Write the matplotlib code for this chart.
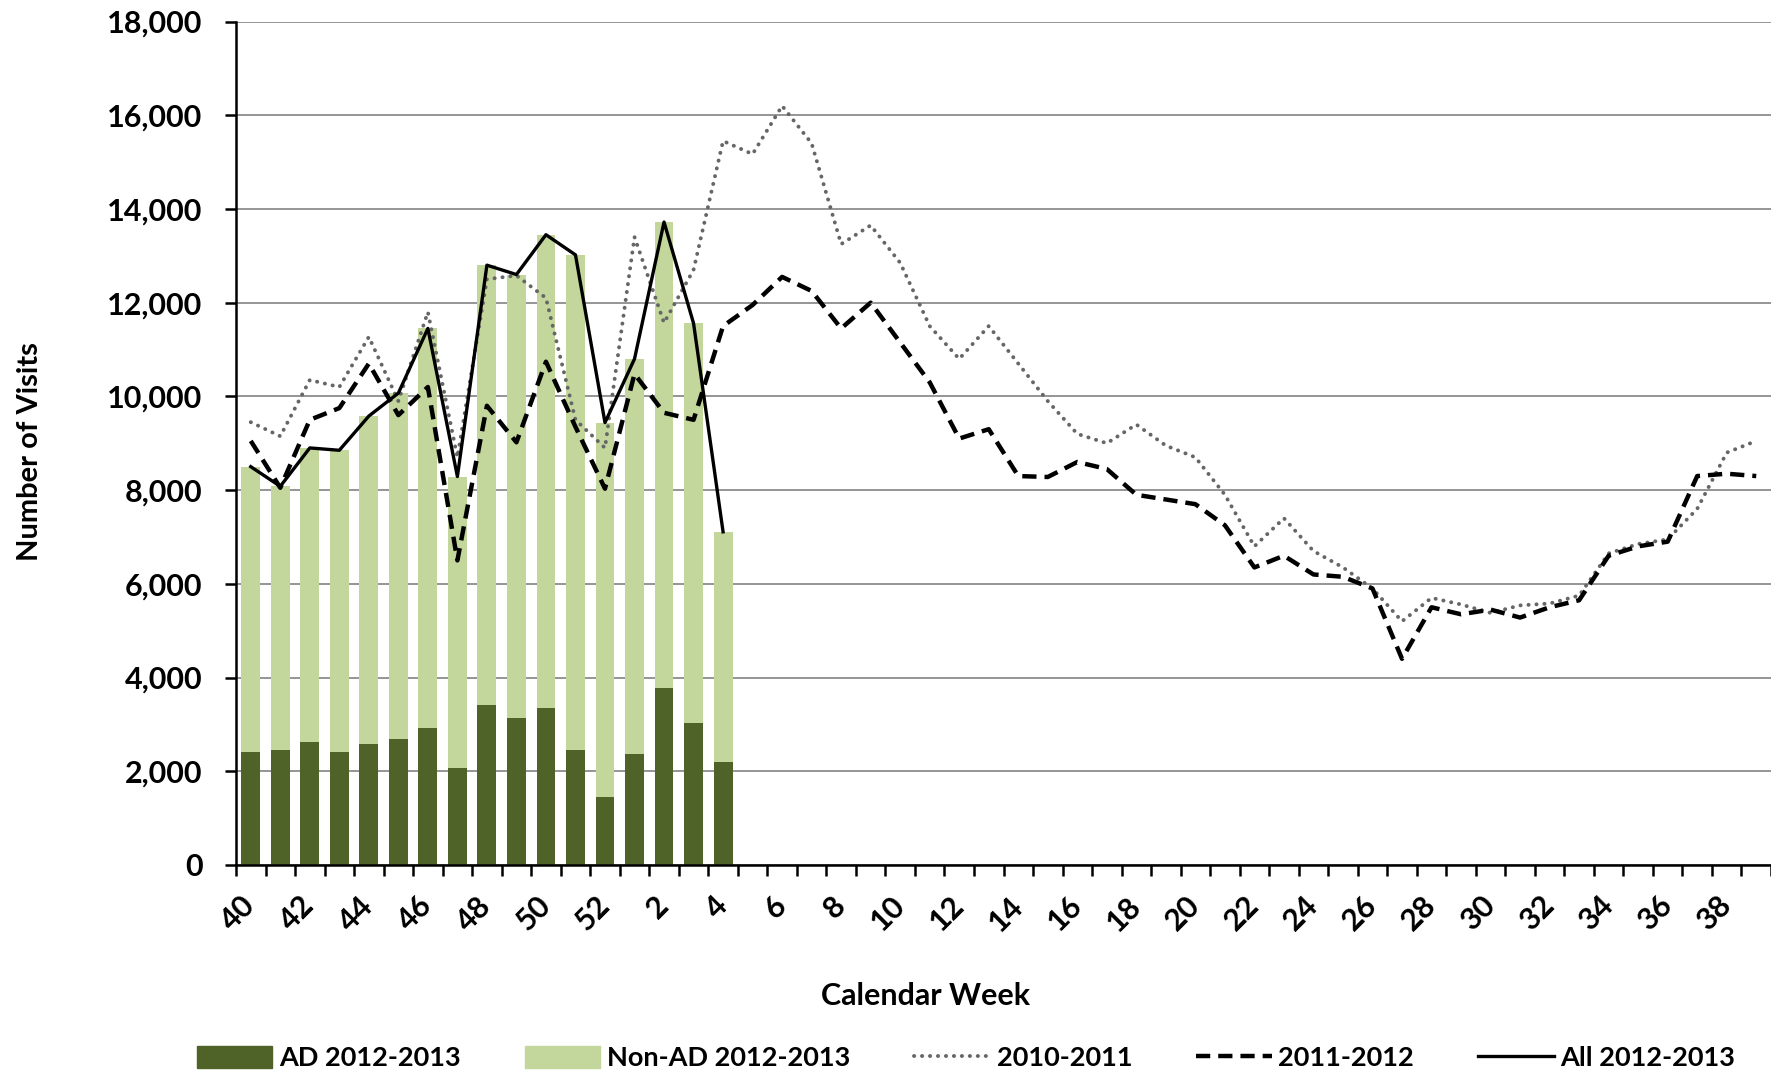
import numpy as np
import matplotlib
matplotlib.use("Agg")
from matplotlib import pyplot as plt
from matplotlib.patches import Patch
from matplotlib.lines import Line2D

plt.rcParams['font.family'] = ['Lato', 'DejaVu Sans']
plt.rcParams['font.weight'] = 'bold'

# calendar weeks, season runs week 40 -> week 39
weeks = list(range(40, 53)) + list(range(1, 40))

# 2012-2013 season (weeks 40..4)
ad_2012 = [2420, 2450, 2630, 2420, 2580, 2690, 2920, 2060, 3410, 3130, 3340, 2450, 1450, 2360, 3770, 3040, 2200]
nonad_2012 = [6080, 5630, 6270, 6430, 7000, 7380, 8530, 6230, 9390, 9470, 10110, 10570, 7990, 8440, 9950, 8520, 4910]
all_2012 = [8500, 8080, 8900, 8850, 9580, 10070, 11450, 8290, 12800, 12600, 13450, 13020, 9440, 10800, 13720, 11560, 7110]

# previous seasons, full year
s2010 = [9450, 9150, 10350, 10200, 11270, 9900, 11800, 8700, 12500, 12580, 12100, 9500, 8900,
         13400, 11570, 12700, 15450, 15170, 16200, 15400, 13250, 13650, 12850, 11500, 10800, 11500, 10700,
         9900, 9200, 9000, 9400, 8950, 8700, 7900, 6800, 7400, 6700, 6350, 5900, 5200, 5700, 5560,
         5380, 5540, 5580, 5750, 6650, 6850, 6950, 7600, 8800, 9050]
s2011 = [9050, 8050, 9500, 9750, 10700, 9600, 10200, 6500, 9800, 9020, 10740, 9350, 8030,
         10480, 9650, 9500, 11500, 11950, 12550, 12250, 11450, 12000, 11150, 10300, 9100, 9300, 8300,
         8280, 8600, 8450, 7900, 7800, 7700, 7250, 6350, 6600, 6200, 6150, 5900, 4400, 5500, 5350,
         5450, 5280, 5500, 5650, 6600, 6800, 6900, 8300, 8350, 8300]

dark = '#4f6228'
light = '#c3d69b'

fig = plt.figure(figsize=(17.71, 10.74), dpi=100)
ax = fig.add_axes([236/1771, 1 - 865/1074, 1 - 236/1771, (865 - 21.5)/1074])

x = np.arange(len(weeks))
xb = x[:len(ad_2012)]
ax.bar(xb, ad_2012, width=0.64, color=dark, zorder=2)
ax.bar(xb, nonad_2012, width=0.64, bottom=ad_2012, color=light, zorder=2)

ax.plot(x, s2010, color='#666666', lw=2.8, linestyle=(0, (0.05, 2.0)),
        dash_capstyle='round', zorder=3)
ax.plot(x, s2011, color='black', lw=3.2, linestyle=(0, (3.2, 1.8)), zorder=4)
ax.plot(xb, all_2012, color='black', lw=2.4, zorder=5)

ax.set_xlim(-0.5, len(weeks) - 0.5)
ax.set_ylim(0, 18000)
ax.set_yticks(range(0, 18001, 2000))
ax.set_yticklabels([f'{v:,}' for v in range(0, 18001, 2000)], fontsize=22, fontweight='bold')
ax.tick_params(axis='y', length=8, width=1.8, pad=16)
ax.yaxis.grid(True, color='#8c8c8c', lw=1.3, zorder=0)
ax.set_axisbelow(True)

ax.set_xticks(x[::2])
ax.set_xticklabels([str(w) for w in weeks[::2]], rotation=45, ha='right', va='center',
                   rotation_mode='anchor', fontsize=22, fontweight='bold')
ax.set_xticks(np.arange(-0.5, len(weeks), 1), minor=True)
ax.tick_params(axis='x', which='major', length=0, pad=26)
ax.tick_params(axis='x', which='minor', length=8, width=1.8)

for s in ['top', 'right']:
    ax.spines[s].set_visible(False)
ax.spines['left'].set_linewidth(1.8)
ax.spines['bottom'].set_linewidth(1.8)

fig.text(30/1771, 1 - 452/1074, 'Number of Visits', rotation=90, ha='center', va='center',
         fontsize=21, fontweight='bold')
fig.text(926/1771, 1 - 996/1074, 'Calendar Week', ha='center', va='center',
         fontsize=22, fontweight='bold')

handles = [Patch(color=dark), Patch(color=light),
           Line2D([], [], color='#666666', lw=2.8, linestyle=(0, (0.05, 2.0)), dash_capstyle='round'),
           Line2D([], [], color='black', lw=3.2, linestyle=(0, (3.2, 1.8))),
           Line2D([], [], color='black', lw=2.4)]
labels = ['AD 2012-2013', 'Non-AD 2012-2013', '2010-2011', '2011-2012', 'All 2012-2013']
fig.legend(handles, labels, loc='center', bbox_to_anchor=(966/1771, 1 - 1058/1074), ncol=5,
           frameon=False, handlelength=2.8, handleheight=0.9,
           handletextpad=0.25, columnspacing=2.35, prop={'weight': 'bold', 'size': 19.5})

fig.savefig('out.png', dpi=100)
